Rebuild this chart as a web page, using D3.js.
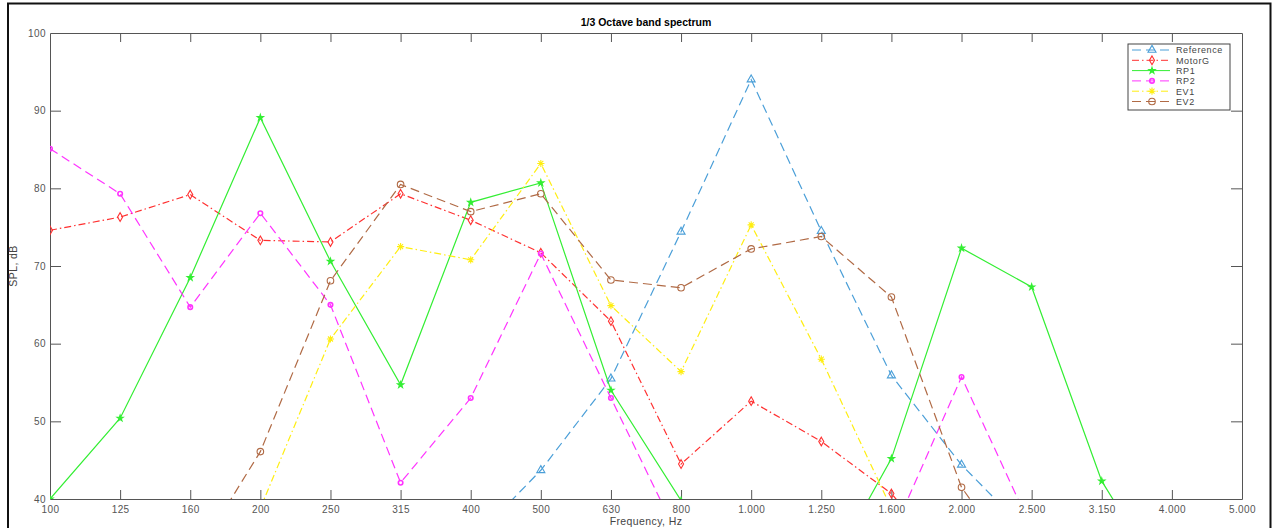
<!DOCTYPE html>
<html>
<head>
<meta charset="utf-8">
<script src="https://cdn.jsdelivr.net/npm/d3@7"></script>
<style>
body { margin: 0; background: #fff; }
text { font-family: "Liberation Sans", Arial, sans-serif; }
</style>
</head>
<body>
<script>
var W = 1276, H = 528;

// data
var freqLabels = ["100","125","160","200","250","315","400","500","630","800","1.000","1.250","1.600","2.000","2.500","3.150","4.000","5.000"];
var yTicks = [40, 50, 60, 70, 80, 90, 100];
var seriesNames = ["Reference", "MotorG", "RP1", "RP2", "EV1", "EV2"];
var reference = [null,null,null,null,null,null,34.4,43.7,55.5,74.4,94.0,74.5,55.9,44.4,35.2,null,null,null];
var motorG    = [74.6,76.3,79.2,73.3,73.1,79.3,75.9,71.7,62.9,44.5,52.6,47.4,40.7,30,null,null,null,null];
var rp1       = [40.0,50.4,68.5,89.1,70.6,54.7,78.2,80.7,54.0,39.8,null,29,45.2,72.3,67.3,42.3,27.7,null];
var rp2       = [85.1,79.3,64.7,76.8,65.0,42.1,53.0,71.6,53.0,34.4,null,null,35.2,55.7,36.2,null,null,null];
var ev1       = [null,null,null,38.8,60.6,72.5,70.8,83.2,64.9,56.4,75.3,58.0,38.8,null,null,null,null,null];
var ev2       = [null,null,31.5,46.1,68.1,80.5,77.0,79.3,68.2,67.2,72.2,73.8,66.0,41.5,29,null,null,null];

var allValues = [reference, motorG, rp1, rp2, ev1, ev2];

// styles per series
var styles = [
    {color: "#4b9fd8", dash: "9,5",       marker: "triangle"},
    {color: "#ff3030", dash: "7,3,1.5,3", marker: "diamond"},
    {color: "#33ee33", dash: null,        marker: "star"},
    {color: "#ff33ff", dash: "9,5",       marker: "dot"},
    {color: "#ffee11", dash: "7,3,1.5,3", marker: "asterisk"},
    {color: "#b06a45", dash: "9,5",       marker: "circle"}
];

var pLeft = 50, pRight = 1242, pTop = 33, pBottom = 499;

var svg = d3.select("body").append("svg")
    .attr("width", W)
    .attr("height", H);

// outer figure frame
svg.append("rect").attr("x", 0).attr("y", 0).attr("width", W).attr("height", H).attr("fill", "#fff");
svg.append("path")
    .attr("d", `M8,${H+5} V3.5 H1270.5 V${H+5}`)
    .attr("fill", "none")
    .attr("stroke", "#111")
    .attr("stroke-width", 2);

var xScale = d3.scalePoint().domain(freqLabels).range([pLeft, pRight]);
var yScale = d3.scaleLinear().domain([40, 100]).range([pBottom, pTop]);

var axisColor = "#555";

// axes with inner ticks, box on all sides
var xAxis = svg.append("g").attr("transform", `translate(0, ${pBottom})`)
    .call(d3.axisBottom(xScale).tickSizeInner(-9).tickSizeOuter(0).tickPadding(6));
var xTop = svg.append("g").attr("transform", `translate(0, ${pTop})`)
    .call(d3.axisTop(xScale).tickSizeInner(-9).tickSizeOuter(0).tickFormat(""));
var yAxis = svg.append("g").attr("transform", `translate(${pLeft}, 0)`)
    .call(d3.axisLeft(yScale).tickValues(yTicks).tickSizeInner(-11).tickSizeOuter(0).tickPadding(4));
var yRight = svg.append("g").attr("transform", `translate(${pRight}, 0)`)
    .call(d3.axisRight(yScale).tickValues(yTicks).tickSizeInner(-11).tickSizeOuter(0).tickFormat(""));

svg.selectAll(".domain").attr("stroke", axisColor);
svg.selectAll(".tick line").attr("stroke", axisColor);
svg.selectAll(".tick text")
    .attr("fill", "#555")
    .style("font-size", "10px")
    .style("letter-spacing", "0.4px");
xAxis.selectAll(".tick text").attr("dy", "0.75em");
xAxis.selectAll(".tick").filter(function(d) { return d === "100"; }).select("line").remove();
yAxis.selectAll(".tick").filter(function(d) { return d === 40 || d === 100; }).select("line").remove();
yRight.selectAll(".tick").filter(function(d) { return d === 40 || d === 100; }).select("line").remove();
xTop.selectAll(".tick").filter(function(d, i) { return i === 0 || i === freqLabels.length - 1; }).select("line").remove();

// titles
svg.append("text")
    .attr("x", (pLeft + pRight) / 2).attr("y", 26)
    .attr("text-anchor", "middle")
    .style("font-size", "10.5px").style("font-weight", "bold")
    .text("1/3 Octave band spectrum");
svg.append("text")
    .attr("x", (pLeft + pRight) / 2).attr("y", 525)
    .attr("text-anchor", "middle")
    .attr("fill", "#444")
    .style("font-size", "10.5px").style("letter-spacing", "0.4px")
    .text("Frequency, Hz");
svg.append("text")
    .attr("transform", `translate(17, ${(pTop + pBottom) / 2}) rotate(-90)`)
    .attr("text-anchor", "middle")
    .attr("fill", "#444")
    .style("font-size", "10.5px").style("letter-spacing", "0.4px")
    .text("SPL, dB");

svg.append("clipPath").attr("id", "plotclip")
    .append("rect").attr("x", pLeft).attr("y", pTop).attr("width", pRight - pLeft).attr("height", pBottom - pTop);

var plot = svg.append("g").attr("clip-path", "url(#plotclip)");

function markerPath(type) {
    if (type === "triangle") return d3.symbol(d3.symbolTriangle, 28)();
    if (type === "diamond") return d3.symbol(d3.symbolDiamond, 22)();
    if (type === "star") return d3.symbol(d3.symbolStar, 12)();
    if (type === "dot") return d3.symbol(d3.symbolCircle, 16)();
    if (type === "circle") return d3.symbol(d3.symbolCircle, 34)();
    // asterisk
    var r = 3.6, q = 2.5;
    return `M${-r},0H${r}M0,${-r}V${r}M${-q},${-q}L${q},${q}M${-q},${q}L${q},${-q}`;
}

function drawMarkers(g, pts, st, cls) {
    g.selectAll("." + cls).data(pts).enter().append("path")
        .attr("class", cls)
        .attr("transform", function(d) { return `translate(${d.x}, ${d.y})`; })
        .attr("d", markerPath(st.marker))
        .attr("fill", st.marker === "star" ? st.color : "none")
        .attr("stroke", st.color)
        .attr("stroke-width", st.marker === "dot" ? 1.6 : 1.1);
}

var line = d3.line()
    .defined(function(d) { return d.v !== null; })
    .x(function(d) { return d.x; })
    .y(function(d) { return d.y; });

allValues.forEach(function(vals, k) {
    var st = styles[k];
    var pts = vals.map(function(v, i) {
        return {v: v, x: xScale(freqLabels[i]), y: v === null ? 0 : yScale(v)};
    });
    plot.append("path")
        .datum(pts)
        .attr("d", line)
        .attr("fill", "none")
        .attr("stroke", st.color)
        .attr("stroke-width", 1.2)
        .attr("stroke-dasharray", st.dash);
    drawMarkers(plot, pts.filter(function(d) { return d.v !== null; }), st, "m" + k);
});

// legend
var lx = 1128, ly = 44, lw = 102, lh = 66;
var legend = svg.append("g");
legend.append("rect")
    .attr("x", lx).attr("y", ly).attr("width", lw).attr("height", lh)
    .attr("fill", "#fff").attr("stroke", "#444").attr("stroke-width", 1);

seriesNames.forEach(function(name, k) {
    var st = styles[k];
    var yy = ly + 6 + k * 10.3;
    legend.append("line")
        .attr("x1", lx + 4).attr("x2", lx + 42)
        .attr("y1", yy).attr("y2", yy)
        .attr("stroke", st.color).attr("stroke-width", 1)
        .attr("stroke-dasharray", st.dash ? st.dash : null);
    drawMarkers(legend, [{x: lx + 24, y: yy}], st, "lm" + k);
    legend.append("text")
        .attr("x", lx + 48).attr("y", yy + 3.3)
        .attr("fill", "#444")
        .style("font-size", "9px").style("letter-spacing", "0.6px")
        .text(name);
});
</script>
</body>
</html>
